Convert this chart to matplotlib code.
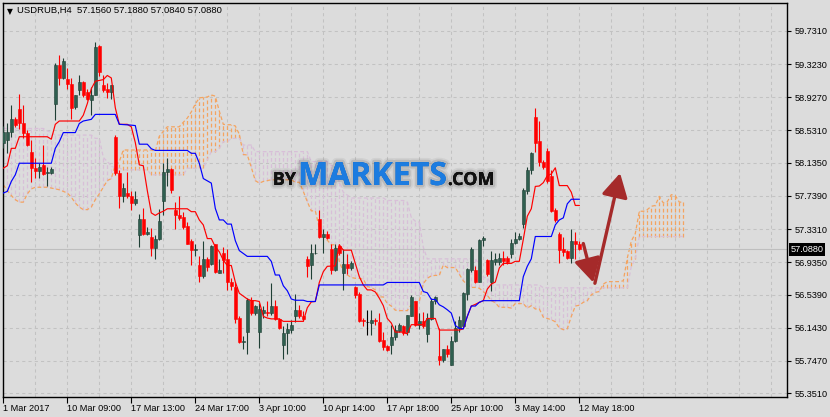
import matplotlib
matplotlib.use("Agg")
import matplotlib.pyplot as plt
import matplotlib.patheffects as pe
import matplotlib.transforms as mtransforms
import numpy as np

# ── candles (H4 bars, oldest first) ────────────────────────────────────────
opens = [58.37, 58.41, 58.51, 58.66, 58.79, 58.61, 58.50, 58.27, 58.07, 58.04,
         58.11, 58.01, 58.01, 58.84, 59.32, 59.16, 59.15, 59.09, 58.81, 59.02,
         59.11, 58.99, 58.89, 58.95, 59.55, 59.07, 59.03, 58.99, 58.45, 58.01,
         57.73, 57.77, 57.73, 57.65, 57.26, 57.46, 57.28, 57.24, 57.11, 57.21,
         57.67, 58.02, 58.06, 57.56, 57.50, 57.48, 57.37, 57.19, 57.08, 56.90,
         56.77, 56.97, 56.91, 57.15, 56.81, 57.05, 56.97, 56.70, 56.64, 56.26,
         55.97, 56.09, 56.48, 56.32, 56.09, 56.32, 56.33, 56.32, 56.40, 56.25,
         55.94, 56.08, 56.12, 56.29, 56.36, 56.29, 56.97, 56.90, 57.04, 57.46,
         57.24, 57.27, 57.09, 56.84, 57.13, 56.80, 56.91, 56.86, 56.64, 56.55,
         56.24, 56.21, 56.20, 56.24, 56.21, 55.99, 55.92, 55.93, 56.03, 56.10,
         56.16, 56.09, 56.29, 56.46, 56.18, 56.22, 56.07, 56.25, 56.46, 55.80,
         55.75, 55.89, 55.69, 55.98, 56.14, 56.16, 56.55, 56.84, 56.84, 56.70,
         57.20, 56.96, 56.70, 56.94, 56.94, 56.98, 56.99, 57.03, 57.17, 57.21,
         57.40, 57.79, 58.05, 58.69, 58.40, 58.14, 58.28, 57.98, 57.56, 57.28,
         57.09, 57.07, 56.98, 57.19, 57.156]
highs = [58.58, 58.62, 58.83, 58.69, 58.97, 58.83, 58.53, 58.41, 58.19, 58.13,
         58.35, 58.09, 58.09, 59.34, 59.44, 59.40, 59.28, 59.16, 58.95, 59.20,
         59.12, 59.03, 59.05, 59.60, 59.56, 59.19, 59.10, 59.08, 58.47, 58.05,
         57.89, 58.03, 57.79, 57.79, 57.52, 57.59, 57.36, 57.35, 57.26, 57.58,
         58.13, 58.19, 58.07, 57.66, 57.74, 57.54, 57.42, 57.22, 57.15, 57.01,
         57.19, 57.00, 57.14, 57.16, 56.97, 57.12, 57.10, 56.74, 56.70, 56.28,
         56.04, 56.50, 56.52, 56.42, 56.44, 56.40, 56.46, 56.68, 56.48, 56.26,
         56.16, 56.20, 56.24, 56.55, 56.42, 56.35, 57.01, 57.15, 57.16, 57.56,
         57.34, 57.31, 57.15, 57.15, 57.15, 57.10, 57.03, 56.95, 56.65, 56.58,
         56.26, 56.36, 56.36, 56.26, 56.32, 56.09, 55.94, 56.18, 56.18, 56.20,
         56.18, 56.30, 56.54, 56.47, 56.32, 56.33, 56.32, 56.50, 56.53, 56.14,
         55.89, 55.93, 56.04, 56.22, 56.29, 56.57, 56.87, 57.12, 56.89, 57.21,
         57.25, 56.97, 57.07, 57.04, 57.05, 57.07, 57.01, 57.22, 57.30, 57.29,
         57.83, 58.08, 58.26, 58.80, 58.64, 58.17, 58.32, 58.05, 57.59, 57.30,
         57.24, 57.08, 57.34, 57.30, 57.188]
lows = [58.31, 58.25, 58.45, 58.57, 58.54, 58.43, 58.34, 57.90, 57.95, 57.95,
        57.99, 57.85, 58.00, 58.65, 59.07, 59.15, 59.03, 58.67, 58.79, 58.95,
        58.93, 58.89, 58.71, 58.95, 59.18, 58.99, 58.92, 58.91, 57.99, 57.59,
        57.66, 57.71, 57.57, 57.62, 57.12, 57.26, 57.26, 57.01, 56.97, 57.20,
        57.50, 57.86, 57.77, 57.34, 57.44, 57.34, 57.15, 56.90, 57.01, 56.70,
        56.74, 56.83, 56.90, 56.81, 56.80, 56.81, 56.60, 56.60, 56.20, 55.96,
        55.89, 55.82, 56.30, 56.30, 55.90, 56.26, 56.28, 56.30, 56.24, 56.13,
        55.76, 55.82, 56.08, 56.21, 56.26, 56.22, 56.76, 56.73, 57.03, 57.23,
        57.05, 57.21, 56.79, 56.83, 57.02, 56.60, 56.79, 56.84, 56.50, 56.21,
        56.17, 56.05, 56.06, 56.18, 55.97, 55.87, 55.86, 55.82, 55.99, 56.09,
        56.06, 56.06, 56.28, 56.17, 56.13, 56.14, 55.97, 56.24, 56.43, 55.69,
        55.73, 55.79, 55.69, 55.97, 56.09, 56.14, 56.48, 56.82, 56.68, 56.69,
        57.13, 56.77, 56.59, 56.90, 56.90, 56.90, 56.91, 56.99, 57.16, 57.20,
        57.35, 57.76, 58.00, 58.27, 58.10, 58.06, 57.89, 57.54, 57.42, 56.92,
        57.01, 56.97, 56.92, 56.97, 57.084]
closes = [58.51, 58.51, 58.66, 58.59, 58.61, 58.49, 58.35, 58.07, 58.04, 58.09,
          58.00, 58.02, 58.06, 59.32, 59.16, 59.36, 59.09, 58.80, 58.95, 59.11,
          58.95, 58.91, 58.96, 59.53, 59.23, 59.02, 58.99, 59.07, 58.01, 57.73,
          57.83, 57.73, 57.65, 57.70, 57.46, 57.27, 57.30, 57.11, 57.21, 57.43,
          58.03, 58.06, 57.81, 57.50, 57.47, 57.36, 57.16, 57.08, 57.09, 56.77,
          56.97, 56.88, 57.13, 56.82, 56.84, 56.96, 56.69, 56.65, 56.25, 55.97,
          55.98, 56.48, 56.32, 56.41, 56.37, 56.36, 56.32, 56.40, 56.25, 56.14,
          56.08, 56.13, 56.18, 56.36, 56.29, 56.25, 56.89, 57.04, 57.05, 57.24,
          57.27, 57.23, 56.84, 57.11, 57.04, 56.91, 56.86, 56.93, 56.54, 56.22,
          56.22, 56.21, 56.24, 56.22, 55.98, 55.91, 55.87, 56.03, 56.11, 56.18,
          56.08, 56.30, 56.52, 56.18, 56.22, 56.16, 56.26, 56.46, 56.51, 55.75,
          55.89, 55.82, 55.98, 56.14, 56.24, 56.56, 56.85, 57.09, 56.70, 57.20,
          57.23, 56.79, 56.96, 56.97, 56.98, 56.95, 56.94, 57.17, 57.21, 57.25,
          57.81, 58.05, 58.25, 58.38, 58.14, 58.09, 57.91, 57.55, 57.44, 57.08,
          57.06, 56.98, 57.19, 57.16, 57.088]

# ── Ichimoku lines (bar index, price) ──────────────────────────────────────
tenkan_idx = [0, 1, 2, 3, 4, 11, 12, 13, 14, 19, 20, 21, 22, 23, 25, 26, 27, 28, 29, 31,
              32, 33, 34, 35, 36, 37, 38, 39, 40, 41, 46, 47, 48, 49, 50, 51, 52, 53, 54, 55,
              56, 57, 58, 59, 60, 61, 62, 63, 64, 65, 66, 67, 69, 70, 75, 76, 77, 78, 79, 80,
              81, 83, 84, 85, 87, 88, 89, 90, 91, 92, 93, 94, 95, 96, 97, 98, 100, 101, 102, 105,
              106, 108, 109, 114, 115, 116, 117, 118, 119, 120, 121, 122, 123, 124, 125, 127, 128, 129, 130, 131,
              132, 133, 134, 135, 136, 137, 138, 139, 141, 142, 143, 144]
tenkan_val = [58.07, 58.10, 58.31, 58.31, 58.45, 58.45, 58.42, 58.60, 58.64, 58.64, 58.71, 58.85, 59.03, 59.12, 59.14, 59.19, 59.16, 58.80, 58.60, 58.60,
              58.57, 58.38, 58.11, 58.10, 57.80, 57.53, 57.50, 57.53, 57.55, 57.58, 57.58, 57.545, 57.545, 57.445, 57.385, 57.22, 57.22, 57.12, 57.06, 56.96,
              56.895, 56.895, 56.695, 56.56, 56.525, 56.49, 56.47, 56.47, 56.46, 56.28, 56.26, 56.25, 56.25, 56.22, 56.22, 56.385, 56.455, 56.46, 56.69, 56.82,
              56.885, 56.89, 57.145, 57.08, 57.08, 56.92, 56.76, 56.66, 56.60, 56.60, 56.575, 56.50, 56.41, 56.255, 56.20, 56.09, 56.09, 56.07, 56.18, 56.18,
              56.255, 56.255, 56.115, 56.115, 56.13, 56.28, 56.405, 56.425, 56.45, 56.47, 56.61, 56.67, 56.695, 56.865, 56.92, 56.92, 56.945, 56.945, 57.21, 57.49,
              57.58, 57.85, 57.855, 57.895, 57.98, 58.00, 58.075, 57.86, 57.86, 57.78, 57.62, 57.62]

kijun_idx = [0, 1, 2, 3, 4, 12, 13, 14, 15, 18, 19, 20, 21, 22, 23, 28, 29, 32, 33, 34,
             36, 37, 38, 46, 47, 48, 49, 50, 52, 53, 54, 55, 56, 57, 58, 59, 60, 61, 66, 67,
             68, 69, 70, 71, 72, 73, 75, 76, 78, 79, 95, 96, 104, 105, 106, 107, 108, 109, 110, 111,
             112, 113, 114, 115, 116, 117, 118, 119, 120, 129, 130, 131, 132, 133, 137, 138, 139, 140, 141, 142,
             144]
kijun_val = [57.77, 57.79, 57.91, 57.99, 58.13, 58.13, 58.31, 58.39, 58.50, 58.50, 58.61, 58.64, 58.65, 58.66, 58.72, 58.72, 58.60, 58.59, 58.585, 58.36,
             58.36, 58.305, 58.285, 58.285, 58.25, 58.25, 58.13, 57.945, 57.89, 57.585, 57.445, 57.445, 57.395, 57.395, 57.195, 57.075, 57.04, 57.005, 57.005, 56.945,
             56.78, 56.78, 56.65, 56.59, 56.49, 56.475, 56.475, 56.46, 56.46, 56.66, 56.66, 56.69, 56.69, 56.58, 56.565, 56.485, 56.485, 56.42, 56.395, 56.36,
             56.32, 56.17, 56.135, 56.13, 56.28, 56.405, 56.405, 56.45, 56.47, 56.47, 56.76, 56.885, 56.975, 57.245, 57.245, 57.385, 57.445, 57.47, 57.64, 57.695,
             57.695]

# senkou spans, one value per bar (already shifted 26 bars forward)
span_a = [57.87, 57.80, 57.74, 57.69, 57.66, 57.66, 57.76, 57.82, 57.84, 57.84,
          57.84, 57.84, 57.83, 57.82, 57.81, 57.79, 57.77, 57.72, 57.65, 57.60,
          57.57, 57.57, 57.60, 57.69, 57.76, 57.84, 57.92, 57.945, 58.11, 58.15,
          58.29, 58.29, 58.29, 58.29, 58.29, 58.29, 58.29, 58.29, 58.275, 58.455,
          58.515, 58.57, 58.57, 58.57, 58.57, 58.625, 58.675, 58.75, 58.845, 58.92,
          58.925, 58.93, 58.955, 58.94, 58.76, 58.60, 58.595, 58.595, 58.58, 58.48,
          58.235, 58.23, 58.08, 57.92, 57.89, 57.91, 57.92, 57.93, 57.93, 57.93,
          57.93, 57.93, 57.93, 57.90, 57.90, 57.79, 57.665, 57.555, 57.555, 57.35,
          57.25, 57.20, 57.145, 57.145, 56.945, 56.82, 56.78, 56.75, 56.74, 56.74,
          56.73, 56.64, 56.63, 56.60, 56.515, 56.515, 56.435, 56.405, 56.355, 56.35,
          56.35, 56.35, 56.42, 56.46, 56.46, 56.675, 56.74, 56.77, 56.775, 56.775,
          56.90, 56.87, 56.87, 56.87, 56.79, 56.71, 56.66, 56.63, 56.63, 56.62,
          56.58, 56.535, 56.47, 56.445, 56.39, 56.39, 56.39, 56.38, 56.435, 56.435,
          56.435, 56.38, 56.41, 56.37, 56.37, 56.27, 56.255, 56.24, 56.215, 56.14,
          56.12, 56.13, 56.28, 56.405, 56.415, 56.45, 56.47, 56.54, 56.57, 56.58,
          56.67, 56.70, 56.70, 56.70, 56.70, 56.71, 56.985, 57.19, 57.28, 57.55,
          57.55, 57.57, 57.61, 57.62, 57.73, 57.65, 57.665, 57.75, 57.74, 57.66,
          57.66]
span_b = [58.55, 58.55, 58.55, 58.55, 58.55, 58.55, 58.55, 58.55, 58.55, 58.55,
          58.55, 58.52, 58.50, 58.47, 58.47, 58.47, 58.47, 58.47, 58.47, 58.47,
          58.47, 58.47, 58.47, 58.43, 58.43, 58.20, 58.15, 58.10, 58.07, 58.07,
          58.05, 58.05, 58.05, 58.05, 58.05, 58.05, 58.05, 57.99, 57.99, 57.99,
          57.99, 57.99, 57.99, 57.99, 57.99, 57.99, 58.07, 58.07, 58.07, 58.07,
          58.07, 58.17, 58.27, 58.27, 58.31, 58.39, 58.39, 58.43, 58.43, 58.43,
          58.35, 58.35, 58.35, 58.27, 58.27, 58.27, 58.27, 58.27, 58.27, 58.27,
          58.27, 58.27, 58.27, 58.27, 58.27, 58.27, 58.27, 58.15, 58.15, 58.15,
          58.15, 58.15, 58.10, 58.10, 57.90, 57.78, 57.745, 57.71, 57.71, 57.71,
          57.71, 57.71, 57.71, 57.71, 57.71, 57.71, 57.68, 57.68, 57.68, 57.68,
          57.68, 57.66, 57.475, 57.43, 57.42, 57.115, 56.975, 56.975, 56.975, 56.975,
          56.975, 56.975, 56.975, 56.975, 56.975, 56.975, 56.975, 56.975, 56.975, 56.915,
          56.75, 56.75, 56.66, 56.66, 56.66, 56.66, 56.66, 56.66, 56.66, 56.66,
          56.66, 56.66, 56.66, 56.66, 56.66, 56.625, 56.625, 56.625, 56.625, 56.625,
          56.625, 56.625, 56.625, 56.625, 56.625, 56.625, 56.625, 56.625, 56.625, 56.625,
          56.625, 56.625, 56.625, 56.625, 56.625, 56.625, 56.625, 56.885, 56.975, 57.245,
          57.245, 57.245, 57.245, 57.245, 57.245, 57.245, 57.245, 57.245, 57.245, 57.245,
          57.245]

# ── axis labels ────────────────────────────────────────────────────────────
price_ticks = [55.351, 55.747, 56.143, 56.539, 56.935, 57.331,
               57.739, 58.135, 58.531, 58.927, 59.323, 59.731]
price_labels = ["55.3510", "55.7470", "56.1430", "56.5390", "56.9350", "57.3310",
                "57.7390", "58.1350", "58.5310", "58.9270", "59.3230", "59.7310"]
time_ticks = [0, 16, 32, 48, 64, 80, 96, 112, 128, 144]
time_labels = ["1 Mar 2017", "10 Mar 09:00", "17 Mar 13:00", "24 Mar 17:00", "3 Apr 10:00",
               "10 Apr 14:00", "17 Apr 18:00", "25 Apr 10:00", "3 May 14:00", "12 May 18:00"]
last_price = 57.088
header = "USDRUB,H4  57.1560 57.1880 57.0840 57.0880"

# hand-drawn forecast arrows: (bar, price) start -> end
arrows = [((145.0, 57.16), (147.5, 56.69)),
          ((147.9, 56.68), (154.2, 58.01))]

BG = "#DCDCDC"
GRID = "#C2C2C2"
BULL = "#2F5F4F"
BULL_EDGE = "#1F3F35"
BEAR = "#FF0000"
SANDY = "#F4A460"
THISTLE = "#D8BFD8"
FONT = "Liberation Sans"


def draw_logo(fig, ax):
    # BY + MARKETS + .COM watermark, MARKETS scaled to ~149 px wide
    shadow = [pe.Stroke(linewidth=6, foreground=(0, 0, 0, 0.05)),
              pe.Stroke(linewidth=3.5, foreground=(0, 0, 0, 0.10)), pe.Normal()]
    base_y = 0.5373
    mk = ax.text(0.3764, base_y, "MARKETS", transform=ax.transAxes, ha="left", va="baseline",
                 fontsize=24, fontweight="bold", family="Open Sans", color="#1C7CE0",
                 path_effects=shadow, zorder=7)
    fig.canvas.draw()
    r = fig.canvas.get_renderer()
    w = mk.get_window_extent(r).width
    mk.set_fontsize(24 * 149.0 / w)
    bb = mk.get_window_extent(r)
    inv = ax.transAxes.inverted()
    x_left = inv.transform((bb.x0 - 2, 0))[0]
    x_right = inv.transform((bb.x1 + 1, 0))[0]
    ax.text(x_left, base_y, "BY", transform=ax.transAxes, ha="right", va="baseline",
            fontsize=13, fontweight="bold", family="Open Sans", color="#111111",
            path_effects=shadow, zorder=7)
    ax.text(x_right, base_y, ".COM", transform=ax.transAxes, ha="left", va="baseline",
            fontsize=13, fontweight="bold", family="Open Sans", color="#111111",
            path_effects=shadow, zorder=7)


def main():
    fig = plt.figure(figsize=(8.3, 4.17), dpi=100, facecolor=BG)
    ax = fig.add_axes([2.7 / 830, 1 - 396.7 / 417, 784.6 / 830, 394 / 417])
    ax.set_facecolor(BG)

    o, h, l, c = (np.array(v) for v in (opens, highs, lows, closes))
    x = np.arange(len(c))

    # ── cloud ──────────────────────────────────────────────────────────────
    a, b = np.array(span_a), np.array(span_b)
    kc = np.arange(len(a))
    up_k = a >= b
    dots = (0, (3, 2))
    ax.vlines(kc[up_k], b[up_k], a[up_k], colors=SANDY, linestyles=dots, lw=0.9, zorder=1)
    ax.vlines(kc[~up_k], a[~up_k], b[~up_k], colors=THISTLE, linestyles=dots, lw=0.9, zorder=1)
    ax.plot(kc, a, color=SANDY, ls=dots, lw=0.9, zorder=1.2)
    ax.plot(kc, b, color=THISTLE, ls=dots, lw=0.9, zorder=1.2)

    ax.axhline(last_price, color="#BEBEBE", lw=0.8, zorder=1.5)

    # ── candles ────────────────────────────────────────────────────────────
    doji = o == c
    bull = (c > o) & ~doji
    bear = c < o
    body_lo = np.minimum(o, c)
    body_h = np.maximum(np.abs(c - o), 0.008)
    for mask, fill, edge in [(bull, BULL, BULL_EDGE), (bear, BEAR, BEAR), (doji, "black", "black")]:
        ax.vlines(x[mask], l[mask], h[mask], color=edge, lw=0.8, zorder=3)
        ax.bar(x[mask], body_h[mask], bottom=body_lo[mask], width=0.72,
               color=fill, edgecolor=edge, linewidth=0.4, zorder=4)

    # ── tenkan / kijun ─────────────────────────────────────────────────────
    ax.plot(tenkan_idx, tenkan_val, color="red", lw=0.85, zorder=5)
    ax.plot(kijun_idx, kijun_val, color="blue", lw=0.85, zorder=5)

    # ── arrows ─────────────────────────────────────────────────────────────
    for (x0, y0), (x1, y1) in arrows:
        ax.annotate("", xy=(x1, y1), xytext=(x0, y0), zorder=6,
                    arrowprops=dict(arrowstyle="-|>,head_length=0.9,head_width=0.5",
                                    color="#A52A2A", lw=2.4, mutation_scale=16,
                                    shrinkA=0, shrinkB=0))

    # ── axes / grid ────────────────────────────────────────────────────────
    ax.set_xlim(-0.15, 196)
    ax.set_ylim(55.310, 60.069)
    ax.yaxis.tick_right()
    ax.set_yticks(price_ticks)
    ax.set_yticklabels(price_labels, fontsize=6.6, family=FONT)
    ax.set_xticks(time_ticks)
    ax.set_xticks(np.arange(8, 196, 8), minor=True)
    ax.set_xticklabels(time_labels, fontsize=6.6, family=FONT, ha="left")
    ax.tick_params(axis="y", direction="out", length=3, width=0.8, pad=2, colors="black")
    ax.tick_params(axis="x", which="major", direction="out", length=4, width=0.8, pad=1.5)
    ax.tick_params(axis="x", which="minor", length=0)
    ax.grid(True, which="both", color=GRID, ls=(0, (3, 3)), lw=0.75, zorder=0)
    ax.set_axisbelow(True)
    for s in ax.spines.values():
        s.set_color("black")
        s.set_linewidth(1.0)

    # last price tag on the price scale
    trans = mtransforms.blended_transform_factory(ax.transAxes, ax.transData)
    ax.text(1.0045, last_price, "57.0880", transform=trans, ha="left", va="center",
            color="white", fontsize=6.6, family=FONT, clip_on=False,
            bbox=dict(boxstyle="square,pad=0.18", fc="black", ec="none"))

    # header
    ax.text(0.0093, 0.978, "\u25BC", transform=ax.transAxes, ha="center", va="center",
            fontsize=5.5, family="DejaVu Sans")
    ax.text(0.0186, 0.9797, header, transform=ax.transAxes, ha="left", va="center",
            fontsize=6.8, family=FONT)

    draw_logo(fig, ax)

    fig.savefig("out.png", dpi=100, facecolor=BG)


if __name__ == "__main__":
    main()
